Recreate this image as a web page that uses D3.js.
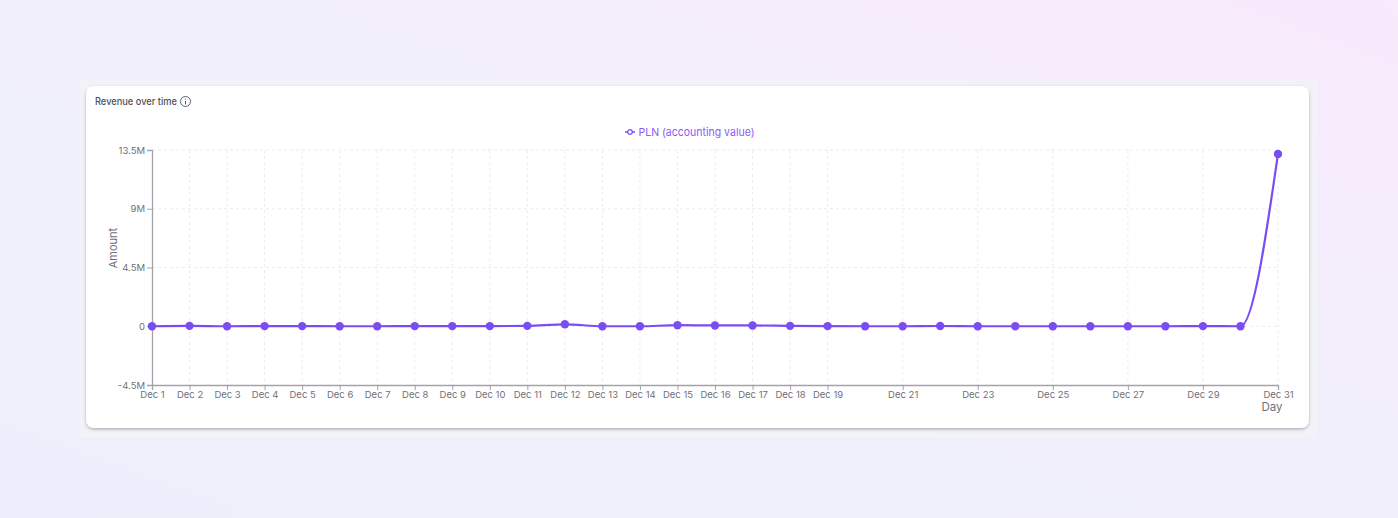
<!DOCTYPE html>
<html>
<head>
<meta charset="utf-8">
<script src="https://cdn.jsdelivr.net/npm/d3@7"></script>
<style>
  html, body { margin: 0; padding: 0; width: 1398px; height: 518px; overflow: hidden; }
  body { font-family: Inter, "Noto Sans", sans-serif; }
</style>
</head>
<body>
<svg id="chart" width="1398" height="518"></svg>
<script>
// ---- data ----
const days = ["Dec 1","Dec 2","Dec 3","Dec 4","Dec 5","Dec 6","Dec 7","Dec 8","Dec 9","Dec 10",
  "Dec 11","Dec 12","Dec 13","Dec 14","Dec 15","Dec 16","Dec 17","Dec 18","Dec 19","Dec 20",
  "Dec 21","Dec 22","Dec 23","Dec 24","Dec 25","Dec 26","Dec 27","Dec 28","Dec 29","Dec 30","Dec 31"];
const plnValues = [0, 30000, 0, 10000, 10000, 0, 0, 10000, 10000, 10000,
  30000, 150000, 0, 0, 80000, 60000, 60000, 30000, 10000, 0,
  0, 20000, 0, 0, 0, 0, 0, 0, 10000, 0, 13200000];
const xTickLabels = ["Dec 1","Dec 2","Dec 3","Dec 4","Dec 5","Dec 6","Dec 7","Dec 8","Dec 9","Dec 10",
  "Dec 11","Dec 12","Dec 13","Dec 14","Dec 15","Dec 16","Dec 17","Dec 18","Dec 19",
  "Dec 21","Dec 23","Dec 25","Dec 27","Dec 29","Dec 31"];
const yTickValues = [-4500000, 0, 4500000, 9000000, 13500000];
const yDomain = [-4500000, 13500000];
const seriesName = "PLN (accounting value)";
const chartTitle = "Revenue over time";
const xAxisLabel = "Day";
const yAxisLabel = "Amount";

// ---- layout ----
const svg = d3.select("#chart");
const W = 1398, H = 518;
const plot = { left: 152, right: 1278, top: 150, bottom: 385 };
const lineColor = "#7a4cf3";

const defs = svg.append("defs");
const bg = defs.append("linearGradient").attr("id","bg").attr("x1","0").attr("y1","1").attr("x2","1").attr("y2","0");
bg.append("stop").attr("offset","0%").attr("stop-color","#eceffb");
bg.append("stop").attr("offset","55%").attr("stop-color","#f1effb");
bg.append("stop").attr("offset","100%").attr("stop-color","#f8e9fb");
const sh = defs.append("filter").attr("id","shadow").attr("x","-5%").attr("y","-10%").attr("width","110%").attr("height","125%");
sh.append("feDropShadow").attr("dx",0).attr("dy",1.5).attr("stdDeviation",1.5).attr("flood-color","#000").attr("flood-opacity",0.28);

svg.append("rect").attr("width",W).attr("height",H).attr("fill","url(#bg)");
svg.append("rect").attr("x",80).attr("y",80).attr("width",1238).attr("height",358).attr("fill","#f2f2f8").attr("opacity",0.9);
svg.append("rect").attr("x",86).attr("y",86).attr("width",1223).attr("height",342).attr("rx",8)
  .attr("fill","#ffffff").attr("filter","url(#shadow)");

// title
svg.append("text").attr("x",95).attr("y",105).attr("font-size",10).attr("font-weight",500)
  .attr("textLength",82).attr("lengthAdjust","spacingAndGlyphs")
  .attr("fill","#50505e").text(chartTitle);
const info = svg.append("g").attr("transform","translate(185.5,101.5)");
info.append("circle").attr("r",5).attr("fill","none").attr("stroke","#50505e").attr("stroke-width",0.9);
info.append("line").attr("x1",0).attr("x2",0).attr("y1",-0.5).attr("y2",2.8).attr("stroke","#50505e").attr("stroke-width",1);
info.append("circle").attr("cx",0).attr("cy",-2.4).attr("r",0.7).attr("fill","#50505e");

// scales
const x = d3.scalePoint().domain(days).range([plot.left, plot.right]);
const y = d3.scaleLinear().domain(yDomain).range([plot.bottom, plot.top]);

// grid
const grid = svg.append("g").attr("stroke","#ececf0").attr("stroke-dasharray","3 3").attr("stroke-width",1);
grid.selectAll("line.h").data(yTickValues.filter(v => v !== yDomain[0])).join("line")
  .attr("x1",plot.left).attr("x2",plot.right).attr("y1",d=>y(d)).attr("y2",d=>y(d));
grid.selectAll("line.v").data(xTickLabels.filter(d => d !== days[0])).join("line")
  .attr("x1",d=>x(d)).attr("x2",d=>x(d)).attr("y1",plot.top).attr("y2",plot.bottom);

// axes
const fmt = v => v === 0 ? "0" : ((v < 0 ? "-" : "") + d3.format("~")(Math.abs(v)/1e6) + "M");
const yAxis = svg.append("g").attr("transform",`translate(${plot.left},0)`)
  .call(d3.axisLeft(y).tickValues(yTickValues).tickFormat(fmt).tickSize(5).tickPadding(2));
const xAxis = svg.append("g").attr("transform",`translate(0,${plot.bottom})`)
  .call(d3.axisBottom(x).tickValues(xTickLabels).tickSize(5).tickPadding(1));
[xAxis, yAxis].forEach(a => {
  a.select(".domain").attr("stroke","#a3a3ab").attr("stroke-width",1.3);
  a.selectAll(".tick line").attr("stroke","#a3a3ab");
  a.selectAll(".tick text").attr("fill","#70707a").attr("font-size",9.5).attr("font-family","Inter, sans-serif");
});

svg.append("text").attr("x",1272).attr("y",411).attr("text-anchor","middle").attr("font-size",11.5)
  .attr("fill","#70707a").text(xAxisLabel);
svg.append("text").attr("transform","translate(117,248) rotate(-90)").attr("text-anchor","middle")
  .attr("font-size",11).attr("fill","#70707a").text(yAxisLabel);

// legend
const lg = svg.append("g").attr("transform","translate(625,132)");
lg.append("line").attr("x1",0).attr("x2",10).attr("y1",0).attr("y2",0).attr("stroke",lineColor).attr("stroke-width",1.5);
lg.append("circle").attr("cx",5).attr("cy",0).attr("r",2.3).attr("fill","#fff").attr("stroke",lineColor).attr("stroke-width",1.3);
lg.append("text").attr("x",13.5).attr("y",4).attr("font-size",11).attr("textLength",116).attr("lengthAdjust","spacingAndGlyphs")
  .attr("fill","#8a5cf6").text(seriesName);

// line + dots
const pts = days.map((d,i) => ({ d, v: plnValues[i] }));
const line = d3.line().x(p => x(p.d)).y(p => y(p.v)).curve(d3.curveMonotoneX);
svg.append("path").datum(pts).attr("d",line).attr("fill","none").attr("stroke",lineColor).attr("stroke-width",2.2);
svg.append("g").selectAll("circle").data(pts).join("circle")
  .attr("cx",p=>x(p.d)).attr("cy",p=>y(p.v)).attr("r",4.2).attr("fill",lineColor);
</script>
</body>
</html>
